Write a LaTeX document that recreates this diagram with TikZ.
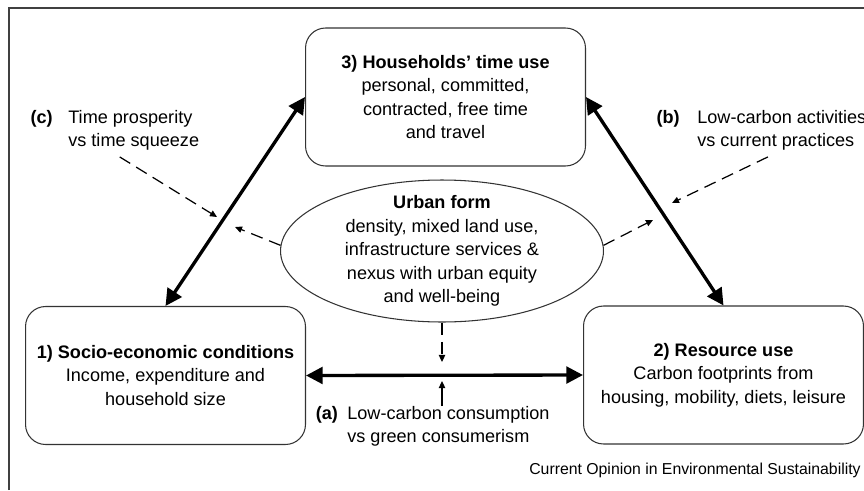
\documentclass[tikz,border=0pt]{standalone}
\usepackage{fontspec}
\setmainfont{Liberation Sans}
\usetikzlibrary{shapes.geometric,arrows.meta,positioning}

\tikzset{
  txt/.style={font=\fontsize{10.3}{13.3}\selectfont, inner sep=0pt},
  box/.style={txt, draw=black!80, line width=0.6pt, rounded corners=0.4cm,
    minimum width=5.6cm, minimum height=2.76cm, align=center},
  note/.style={txt, align=left},
  tag/.style={txt, font=\fontsize{10.3}{13.3}\selectfont\bfseries},
  link/.style={{Triangle[length=9.5pt,width=9.5pt]}-{Triangle[length=9.5pt,width=9.5pt]}, line width=1.9pt},
  hint/.style={-{Triangle[length=4pt,width=3.6pt]}, dash pattern=on 7pt off 4pt, line width=0.7pt},
}

\begin{document}
\begin{tikzpicture}[x=0.02cm, y=-0.02cm]
  \useasboundingbox (0,0) rectangle (864,490);
  \draw[black!75, line width=0.7pt] (9,490) -- (9,8) -- (864,8);

  % the three corners
  \node[box] (time) at (445.5,97) {\textbf{3) Households' time use}\\personal, committed,\\contracted, free time\\and travel};
  \node[box] (socio) at (165.5,375.5) {\textbf{1) Socio-economic conditions}\\Income, expenditure and\\household size};
  \node[box] (res) at (723.5,375) {\textbf{2) Resource use}\\Carbon footprints from\\housing, mobility, diets, leisure};

  % urban form in the middle
  \node[draw=black!80, line width=0.6pt, ellipse, minimum width=6.46cm, minimum height=2.84cm, inner sep=0pt] (urban) at (442,251) {};
  \node[txt, align=center] (urbantxt) at (urban) {\textbf{Urban form}\\density, mixed land use,\\infrastructure services \&\\nexus with urban equity\\and well-being};

  \draw[link] (socio.north) -- (time.west);
  \draw[link] (time.east) -- (res.north);
  \draw[link] (socio.east) -- (res.west);

  % trade-off labels
  \node[note, anchor=north west] (ctxt) at (68,110) {Time prosperity\\vs time squeeze};
  \node[tag, left=8.5pt of ctxt.north west, anchor=north east] (c) {(c)};
  \node[note, anchor=north west] (btxt) at (697,110) {Low-carbon activities\\vs current practices};
  \node[tag, left=9.7pt of btxt.north west, anchor=north east] (b) {(b)};
  \node[note, anchor=north west] (atxt) at (347,406) {Low-carbon consumption\\vs green consumerism};
  \node[tag, left=5pt of atxt.north west, anchor=north east] (a) {(a)};

  \node[txt, font=\fontsize{9}{11}\selectfont, anchor=east] (journal) at (861,470) {Current Opinion in Environmental Sustainability};

  \coordinate (ctip) at (217,217);
  \coordinate (btip) at (672,203);
  \coordinate (ltip) at (235,227);
  \coordinate (rtip) at (653,220);
  \coordinate (dtip) at (442,362);
  \coordinate (utip) at (442,381);

  \draw[hint] ([shift={(-14,6)}]ctxt.south) -- (ctip);
  \draw[hint] ([shift={(-14,6)}]btxt.south) -- (btip);
  \draw[hint] (urban.178) -- (ltip);
  \draw[hint] (urban.2) -- (rtip);
  \draw[hint] (urban.south) -- (dtip);
  \draw[-{Triangle[length=4pt,width=3.6pt]}, line width=0.7pt] (atxt.north -| urban.south) -- (utip);
\end{tikzpicture}
\end{document}
